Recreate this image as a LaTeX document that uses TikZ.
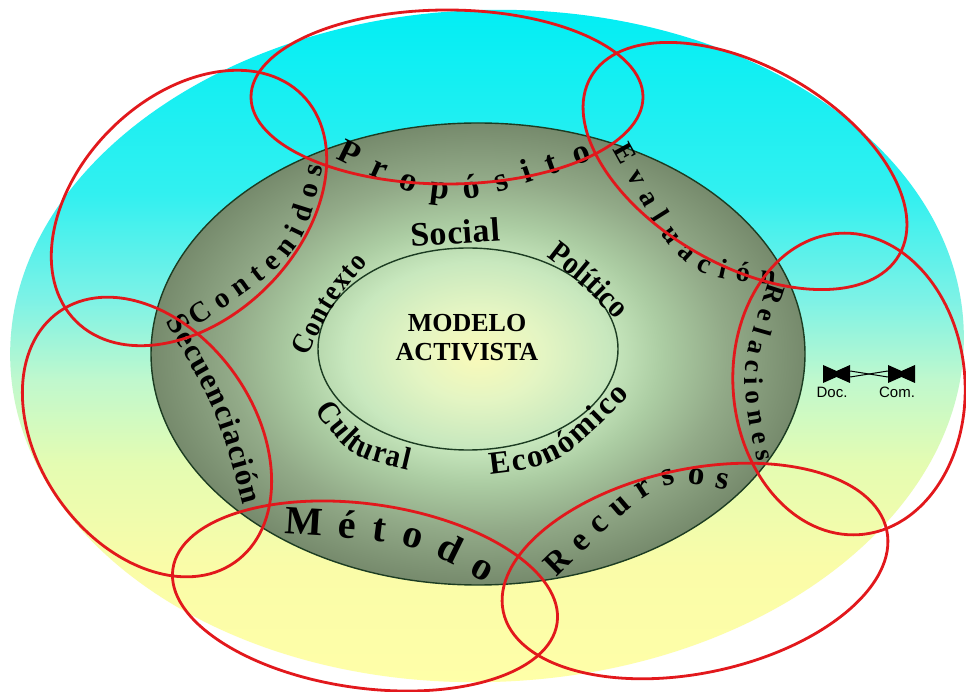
\documentclass[tikz,border=0pt]{standalone}
\usepackage{fontspec}
\setmainfont{Liberation Serif}
\newfontfamily\narrowserif[FakeStretch=0.9]{Liberation Serif}
\newfontfamily\labelsans{Liberation Sans}
\usetikzlibrary{decorations.text,positioning}

\definecolor{ringred}{RGB}{226,24,28}
\definecolor{ringedge}{RGB}{28,60,34}
\definecolor{skyH}{RGB}{0,238,244}
\definecolor{skyG}{RGB}{50,240,240}
\definecolor{skyF}{RGB}{125,242,230}
\definecolor{skyE}{RGB}{192,248,205}
\definecolor{skyD}{RGB}{228,252,178}
\definecolor{skyC}{RGB}{250,252,168}
\definecolor{skyB}{RGB}{255,255,168}
\definecolor{rg0}{RGB}{250,250,185}
\definecolor{rg1}{RGB}{228,245,195}
\definecolor{rg2}{RGB}{200,232,190}
\definecolor{rg3}{RGB}{172,205,163}
\definecolor{rg4}{RGB}{146,170,136}
\definecolor{rg5}{RGB}{118,138,108}

\pgfdeclareverticalshading{skyfill}{100bp}{color(0bp)=(skyB); color(25bp)=(skyB); color(34bp)=(skyC); color(41.5bp)=(skyD); color(47.5bp)=(skyE); color(53.4bp)=(skyF); color(61bp)=(skyG); color(75bp)=(skyH); color(100bp)=(skyH)}
\pgfdeclareradialshading{ringfill}{\pgfpoint{0bp}{0bp}}{color(0bp)=(rg0); color(5bp)=(rg1); color(10bp)=(rg2); color(14bp)=(rg3); color(19bp)=(rg4); color(25bp)=(rg5); color(50bp)=(rg5)}

\newcommand{\wfont}[1]{\fontsize{#1}{#1}\selectfont\bfseries}
\newcommand{\nfont}[1]{\narrowserif\fontsize{#1}{#1}\selectfont\bfseries}

\begin{document}
\begin{tikzpicture}[x=1pt, y=1pt,
    redring/.style={draw=ringred, line width=2.8pt},
    edgeline/.style={draw=ringedge, line width=1.4pt},
    word/.style={decorate, decoration={text along path, text align={fit to path}, text={#1}}},
    bowtie/.style={inner sep=0pt, minimum width=27pt, minimum height=18pt,
      path picture={\fill (path picture bounding box.north west) -- ([yshift=-6pt]path picture bounding box.north) -- (path picture bounding box.north east) -- (path picture bounding box.south east) -- ([yshift=6pt]path picture bounding box.south) -- (path picture bounding box.south west) -- cycle;}}
    ]
    \useasboundingbox[fill=white] (0,0) rectangle (966,691);

    \shade[shading=skyfill, rotate around={2:(487,345)}] (487,345) ellipse [x radius=477, y radius=336];
    \shadedraw[shading=ringfill, edgeline] (478,337) ellipse [x radius=327, y radius=231];
    \draw[edgeline] (468,342) ellipse [x radius=150, y radius=101];

    \node[font=\fontsize{26}{29}\selectfont\bfseries, align=center, inner sep=0pt] (modelo) at (467,353) {MODELO\\ACTIVISTA};

    \path[word={|\wfont{34}|Social}] (411,444) .. controls (456,447) .. (501,450);
    \path[word={|\nfont{32}|Político}] (546,434) .. controls (583,405.5) .. (616,371);
    \path[word={|\nfont{29}|Contexto}] (308,334) .. controls (332,386) .. (368,428);
    \path[word={|\nfont{32}|Cultural}] (315,281) .. controls (348.5,235) .. (408,221);
    \path[word={|\wfont{32}|Económico}] (490,217) .. controls (560,225.5) .. (630,296);

    \path[word={|\wfont{34}|Propósito}] (335,533) .. controls (446.5,478) .. (592,531);
    \path[word={|\wfont{28}|Evaluación}] (612,541) .. controls (682.5,414.5) .. (775,406);
    \path[word={|\wfont{27}|Relaciones}] (768,408) .. controls (739.5,319.5) .. (757,229);
    \path[word={|\wfont{33}|Recursos}] (556,113) .. controls (660.5,215) .. (727,201);
    \path[word={|\wfont{40}|Método}] (284,157) .. controls (411,149.5) .. (486,108);
    \path[word={|\wfont{31}|Secuenciación}] (165,369) .. controls (216,284.5) .. (243,186);
    \path[word={|\wfont{29}|Contenidos}] (196,364) .. controls (302.5,436) .. (323,524);

    \draw[redring] (447,594) ellipse [x radius=196, y radius=87];
    \draw[redring, rotate around={-30:(745,525)}] (745,525) ellipse [x radius=178, y radius=99];
    \draw[redring, rotate around={4:(849,307)}] (849,307) ellipse [x radius=116, y radius=151];
    \draw[redring, rotate around={12:(695,120)}] (695,120) ellipse [x radius=196, y radius=102];
    \draw[redring, rotate around={-8:(365,95)}] (365,95) ellipse [x radius=194, y radius=92];
    \draw[redring, rotate around={125:(147,254)}] (147,254) ellipse [x radius=153, y radius=108];
    \draw[redring, rotate around={45:(189,483)}] (189,483) ellipse [x radius=160, y radius=111];

    \node[bowtie] (docend) at (836.5,317) {};
    \node[bowtie] (comend) at (901.5,317) {};
    \node[font=\labelsans\fontsize{15}{15}\selectfont] (doc) at (832,299) {Doc.};
    \node[font=\labelsans\fontsize{15}{15}\selectfont] (com) at (897,299) {Com.};
    \draw[line width=1pt] ([yshift=3pt]docend.east) -- ([yshift=-3pt]comend.west);
    \draw[line width=1pt] ([yshift=-3pt]docend.east) -- ([yshift=3pt]comend.west);
\end{tikzpicture}
\end{document}
